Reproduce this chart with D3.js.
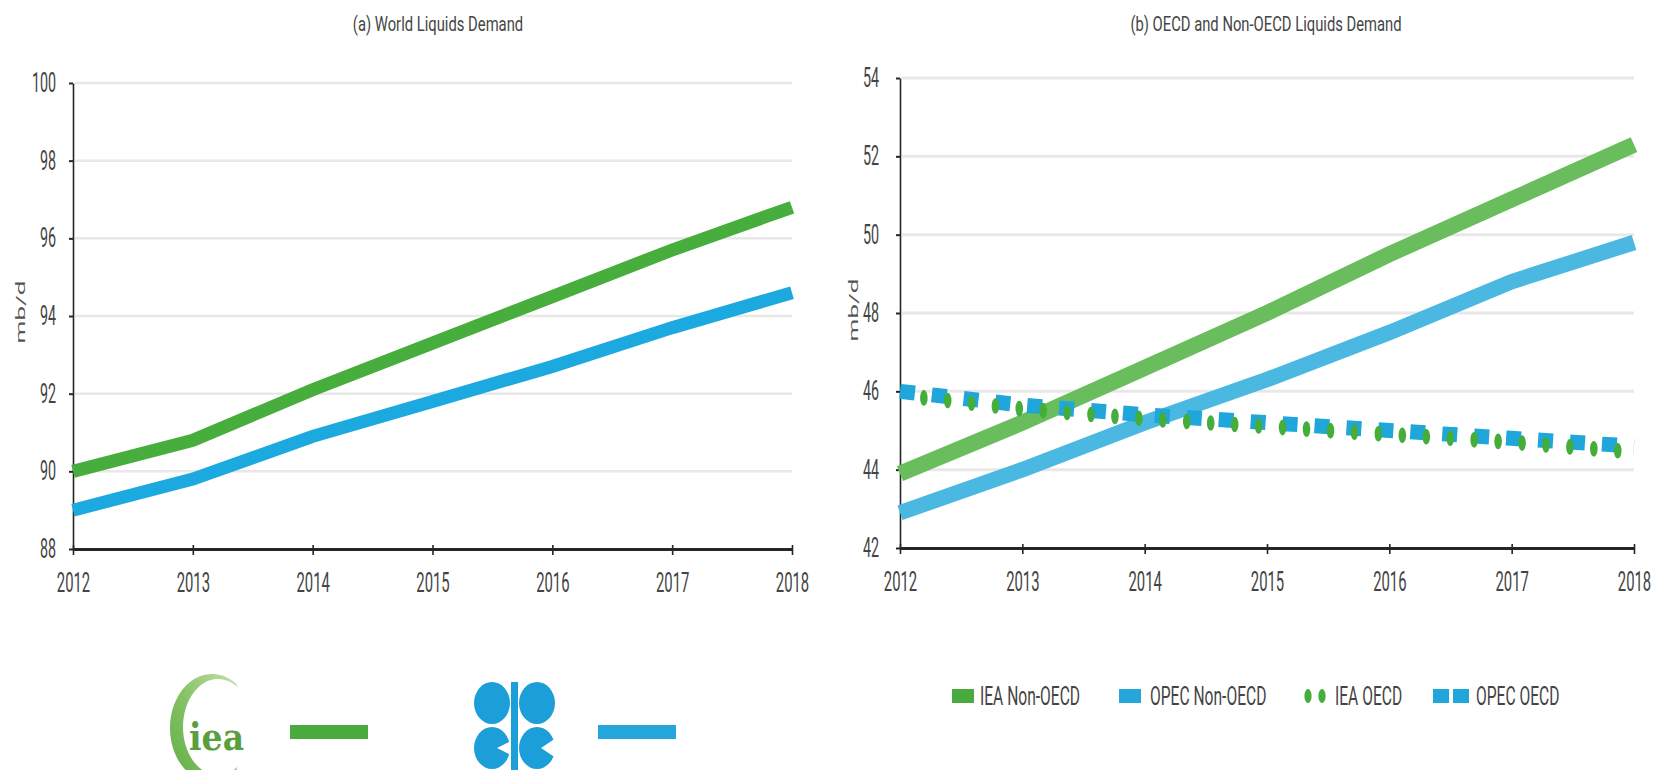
<!DOCTYPE html>
<html>
<head>
<meta charset="utf-8">
<script src="https://cdn.jsdelivr.net/npm/d3@7"></script>
<style>
  html, body { margin: 0; padding: 0; background: #fff; }
  svg { display: block; }
</style>
</head>
<body>
<svg id="chart" width="1665" height="770"></svg>
<script>
// ---- data ----
const years = [2012, 2013, 2014, 2015, 2016, 2017, 2018];

// (a) world liquids demand, mb/d
const worldIEA  = [90.0, 90.8, 92.1, 93.3, 94.5, 95.7, 96.8];
const worldOPEC = [89.0, 89.8, 90.9, 91.8, 92.7, 93.7, 94.6];

// (b) OECD / non-OECD liquids demand, mb/d
const ieaNonOECD  = [43.9, 45.2, 46.6, 48.0, 49.5, 50.9, 52.3];
const opecNonOECD = [42.9, 44.0, 45.2, 46.3, 47.5, 48.8, 49.8];
const ieaOECD     = [45.9, 45.55, 45.3, 45.1, 44.9, 44.7, 44.45];
const opecOECD    = [46.0, 45.65, 45.4, 45.2, 45.0, 44.8, 44.6];

const worldTicks  = [88, 90, 92, 94, 96, 98, 100];
const regionTicks = [42, 44, 46, 48, 50, 52, 54];

const panelTitles = ["(a) World Liquids Demand", "(b) OECD and Non-OECD Liquids Demand"];
const unitLabel = "mb/d";
const regionSeriesNames = ["IEA Non-OECD", "OPEC Non-OECD", "IEA OECD", "OPEC OECD"];

// ---- styling ----
const FONT = "Roboto, 'Open Sans', sans-serif";
const TEXT_COLOR = "#444";
const C = {
  worldGreen: "#47ad3d",
  worldBlue: "#1ca9df",
  nonGreen: "#6abd5c",
  nonBlue: "#4ab8e1",
  oecdGreen: "#45ad3a",
  oecdBlue: "#1fa6db",
  grid: "#e8e8e8",
  axis: "#262626"
};

const svg = d3.select("#chart");
const defs = svg.append("defs");

// Draws one panel frame (grid, axes, title, unit label) and returns its scales.
function panel(opts) {
  const x = d3.scaleLinear().domain([years[0], years[years.length - 1]]).range([opts.x0, opts.x1]);
  const y = d3.scaleLinear().domain([opts.ticks[0], opts.ticks[opts.ticks.length - 1]])
    .range([opts.yBottom, opts.yTop]);
  const g = svg.append("g");

  // horizontal grid lines
  g.append("g").selectAll("line")
    .data(opts.ticks.slice(1))
    .join("line")
    .attr("x1", opts.x0 + 2).attr("x2", opts.x1)
    .attr("y1", d => y(d)).attr("y2", d => y(d))
    .attr("stroke", C.grid).attr("stroke-width", opts.gridWidth);

  // y axis
  const yk = 0.53;
  const ya = g.append("g")
    .attr("transform", `translate(${opts.x0},0)`)
    .call(d3.axisLeft(y).tickValues(opts.ticks).tickFormat(d3.format("d")).tickSize(4).tickSizeOuter(0));
  ya.attr("font-family", null).attr("font-size", null);
  ya.select(".domain").attr("stroke", C.axis).attr("stroke-width", 1.6);
  ya.selectAll(".tick line").attr("stroke", C.axis).attr("stroke-width", 2);
  ya.selectAll(".tick text")
    .attr("x", -opts.labelGap / yk)
    .attr("transform", `scale(${yk},1)`)
    .style("font-family", FONT).style("font-size", "27px").attr("fill", TEXT_COLOR);

  // x axis
  const xk = 0.55;
  const xa = g.append("g")
    .attr("transform", `translate(0,${opts.yBottom})`)
    .call(d3.axisBottom(x).tickValues(years).tickFormat(d3.format("d")).tickSize(6).tickSizeOuter(0));
  xa.attr("font-family", null).attr("font-size", null);
  xa.select(".domain").attr("stroke", C.axis).attr("stroke-width", 3);
  xa.selectAll(".tick line").attr("stroke", C.axis).attr("stroke-width", 1.6).attr("y1", -4).attr("y2", 6);
  xa.selectAll(".tick text")
    .attr("y", 24)
    .attr("transform", `scale(${xk},1)`)
    .style("font-family", FONT).style("font-size", "27px").attr("fill", TEXT_COLOR);

  // title
  g.append("text")
    .attr("transform", `translate(${opts.titleX},31) scale(0.74,1)`)
    .attr("text-anchor", "middle")
    .style("font-family", FONT).style("font-size", "20px").attr("fill", "#454545")
    .text(opts.title);

  // unit label
  g.append("text")
    .attr("transform", `translate(${opts.unitX},${opts.unitY}) rotate(-90) scale(2,1)`)
    .attr("text-anchor", "middle")
    .attr("dy", "0.35em")
    .style("font-family", FONT).style("font-size", "13px").attr("fill", "#555")
    .text(unitLabel);

  return { x, y, g };
}

function lineGen(p) {
  return d3.line().x((d, i) => p.x(years[i])).y(d => p.y(d));
}

// ---- (a) World liquids demand ----
const pa = panel({
  x0: 73, x1: 792, yTop: 83, yBottom: 549,
  ticks: worldTicks, title: panelTitles[0], titleX: 438,
  labelGap: 17, unitX: 20, unitY: 312, gridWidth: 2.5
});
const la = lineGen(pa);
pa.g.append("path").attr("d", la(worldOPEC)).attr("fill", "none")
  .attr("stroke", C.worldBlue).attr("stroke-width", 13);
pa.g.append("path").attr("d", la(worldIEA)).attr("fill", "none")
  .attr("stroke", C.worldGreen).attr("stroke-width", 13);

// ---- (b) OECD and non-OECD liquids demand ----
const pb = panel({
  x0: 900, x1: 1634, yTop: 78, yBottom: 548,
  ticks: regionTicks, title: panelTitles[1], titleX: 1266,
  labelGap: 21, unitX: 853, unitY: 310, gridWidth: 3
});
const lb = lineGen(pb);
pb.g.append("path").attr("d", lb(ieaNonOECD)).attr("fill", "none")
  .attr("stroke", C.nonGreen).attr("stroke-width", 16);
pb.g.append("path").attr("d", lb(opecNonOECD)).attr("fill", "none")
  .attr("stroke", C.nonBlue).attr("stroke-width", 15.5);

// OPEC OECD: square dashes
pb.g.append("path").attr("d", lb(opecOECD)).attr("fill", "none")
  .attr("stroke", C.oecdBlue).attr("stroke-width", 15)
  .attr("stroke-dasharray", "15 17");

// IEA OECD: oval dots spaced along the series path
const ieaGuide = pb.g.append("path").attr("d", lb(ieaOECD)).attr("fill", "none").attr("stroke", "none");
const guideNode = ieaGuide.node();
const guideLen = guideNode.getTotalLength();
const dotStops = d3.range(24, guideLen, 24);
pb.g.append("g").selectAll("ellipse")
  .data(dotStops.map(s => guideNode.getPointAtLength(s)))
  .join("ellipse")
  .attr("cx", p => p.x).attr("cy", p => p.y)
  .attr("rx", 3.8).attr("ry", 7.8)
  .attr("fill", C.oecdGreen);

// ---- legend for panel (b) ----
const legend = svg.append("g");
const legendY = 696;
const legendKeys = [
  { name: regionSeriesNames[0], kind: "rect", color: "#49ab3e", keyX: 952, textX: 980 },
  { name: regionSeriesNames[1], kind: "rect", color: "#25a7dc", keyX: 1119, textX: 1150 },
  { name: regionSeriesNames[2], kind: "dots", color: C.oecdGreen, keyX: 1304, textX: 1335 },
  { name: regionSeriesNames[3], kind: "squares", color: C.oecdBlue, keyX: 1433, textX: 1476 }
];
legendKeys.forEach(k => {
  if (k.kind === "rect") {
    legend.append("rect").attr("x", k.keyX).attr("y", legendY - 7).attr("width", 22).attr("height", 14).attr("fill", k.color);
  } else if (k.kind === "dots") {
    [k.keyX + 4, k.keyX + 18].forEach(cx =>
      legend.append("ellipse").attr("cx", cx).attr("cy", legendY).attr("rx", 3.6).attr("ry", 7).attr("fill", k.color));
  } else {
    [k.keyX, k.keyX + 20].forEach(x0 =>
      legend.append("rect").attr("x", x0).attr("y", legendY - 7).attr("width", 16).attr("height", 14).attr("fill", k.color));
  }
  legend.append("text")
    .attr("transform", `translate(${k.textX},${legendY + 9}) scale(0.6,1)`)
    .style("font-family", FONT).style("font-size", "26px").attr("fill", TEXT_COLOR)
    .text(k.name);
});

// ---- source keys for panel (a): IEA and OPEC emblems ----
const ringGrad = defs.append("linearGradient").attr("id", "ieaRing")
  .attr("x1", "1").attr("y1", "0").attr("x2", "0").attr("y2", "1");
ringGrad.append("stop").attr("offset", "0").attr("stop-color", "#c6e2aa");
ringGrad.append("stop").attr("offset", "0.5").attr("stop-color", "#86c266");
ringGrad.append("stop").attr("offset", "1").attr("stop-color", "#5fae45");

const iea = svg.append("g");
const ring = { cx: 212, cy: 728, rx: 42, ry: 54, icx: 218, icy: 727, irx: 35, iry: 48 };
const angles = d3.range(-55, -306, -3).map(a => a * Math.PI / 180);
const outer = angles.map(a => [ring.cx + ring.rx * Math.cos(a), ring.cy + ring.ry * Math.sin(a)]);
const inner = angles.slice().reverse().map(a => [ring.icx + ring.irx * Math.cos(a), ring.icy + ring.iry * Math.sin(a)]);
iea.append("path")
  .attr("d", d3.line().curve(d3.curveLinearClosed)(outer.concat(inner)))
  .attr("fill", "url(#ieaRing)");
iea.append("text")
  .attr("transform", "translate(189,750) scale(0.92,1.05)")
  .style("font-family", "'DejaVu Serif', 'Liberation Serif', serif")
  .style("font-size", "36px").style("font-weight", "bold")
  .attr("fill", "#5a9f3f")
  .text("iea");
svg.append("rect").attr("x", 290).attr("y", 725).attr("width", 78).attr("height", 14).attr("fill", "#49ab3e");

const opec = svg.append("g").attr("fill", "#1c9ed8");
opec.append("ellipse").attr("cx", 492).attr("cy", 703).attr("rx", 18).attr("ry", 21);
opec.append("ellipse").attr("cx", 537).attr("cy", 703).attr("rx", 18).attr("ry", 21);
opec.append("ellipse").attr("cx", 492).attr("cy", 748).attr("rx", 18).attr("ry", 21);
opec.append("ellipse").attr("cx", 537).attr("cy", 748).attr("rx", 18).attr("ry", 21);
opec.append("rect").attr("x", 511).attr("y", 682).attr("width", 7).attr("height", 88);
opec.append("path").attr("d", "M497,748 L511,741 L511,755 Z").attr("fill", "#fff");
opec.append("path").attr("d", "M541,748 L556,738 L556,758 Z").attr("fill", "#fff");
svg.append("rect").attr("x", 598).attr("y", 725).attr("width", 78).attr("height", 14).attr("fill", "#25a7dc");
</script>
</body>
</html>
